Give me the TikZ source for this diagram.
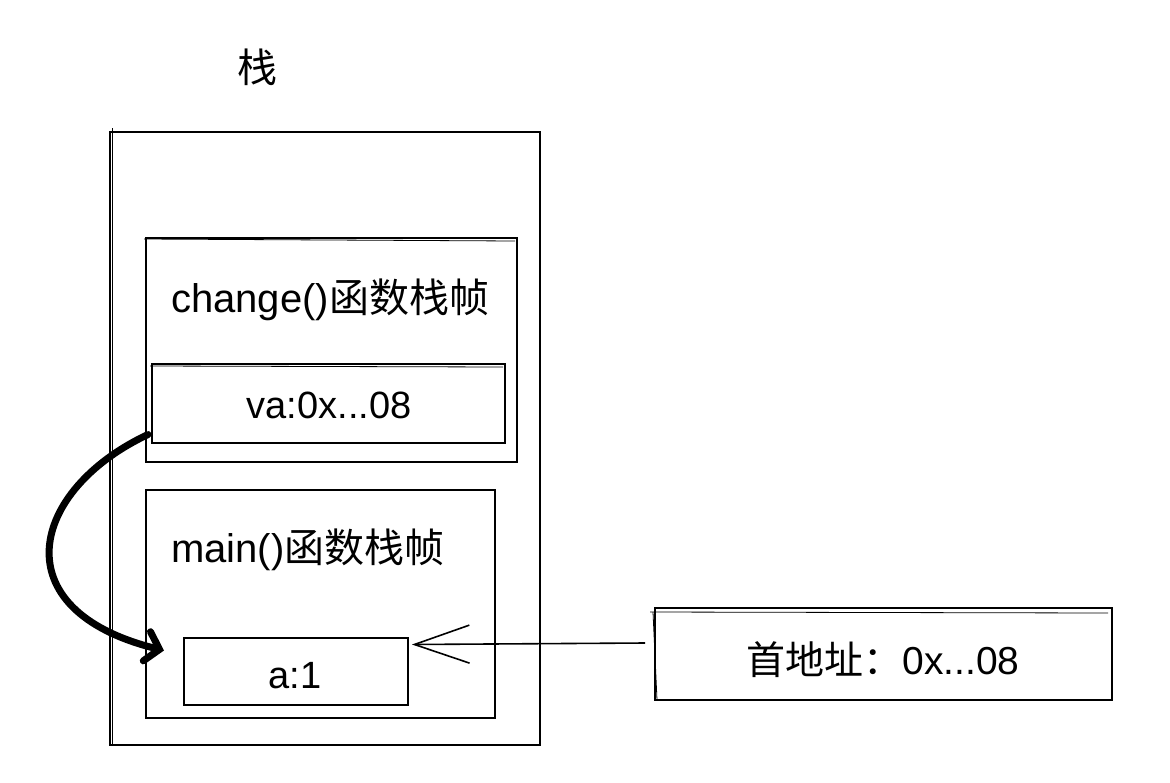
\documentclass[tikz,border=0pt]{standalone}
\usepackage{fontspec}
\setmainfont{Liberation Sans}
\newfontfamily\cjk{Noto Sans CJK SC}
\usetikzlibrary{arrows.meta,calc}
\begin{document}
\begin{tikzpicture}[x=1pt,y=-1pt,
  sketchbox/.style={draw=black,line width=1.6pt,minimum width=#1,inner sep=0pt,outer sep=0pt},
  big/.style={font=\fontsize{40}{44}\selectfont,inner sep=0pt,anchor=west},
  small/.style={font=\fontsize{38}{42}\selectfont,inner sep=0pt}]
\useasboundingbox (0,0) rectangle (1170,782);
% boxes
\node[sketchbox=430pt,minimum height=613pt] (stack) at (325,438.5) {};
\node[sketchbox=371pt,minimum height=224pt] (cframe) at (331.5,350) {};
\node[sketchbox=353pt,minimum height=79pt] (va) at (328.5,403.5) {};
\node[sketchbox=349pt,minimum height=228pt] (mframe) at (320.5,604) {};
\node[sketchbox=224pt,minimum height=67pt] (abox) at (296,671.5) {};
\node[sketchbox=457pt,minimum height=92pt] (addr) at (883.5,654) {};
% second sketch strokes
\draw[line width=0.8pt] (112,128) -- (112,745);
\draw[line width=0.8pt] (144,239) -- (515,241);
\draw[line width=0.8pt] (150,366) -- (503,367);
\draw[line width=0.8pt] (650,612) -- (1108,613);
\draw[line width=0.8pt] (653,612) -- (657,700);
\draw[line width=0.8pt] (494,492) -- (494,716);
% texts
\node[font=\fontsize{40}{44}\selectfont\cjk,inner sep=0pt] (title) at (257,67) {栈};
\node[big] (ctext) at (171,300) {change()\cjk 函数栈帧};
\node[big] (mtext) at (171,550) {main()\cjk 函数栈帧};
\node[small] (vatext) at (329,405) {va:0x...08};
\node[small] (atext) at (295,676) {a:1};
\node[font=\fontsize{39}{44}\selectfont,inner sep=0pt] (addrtext) at (883,660) {{\cjk 首地址：}0x...08};
% connectors
\coordinate (pfrom) at ($(addr.west)+(-10,-11)$);
\coordinate (pto) at ($(abox.east)+(4,-27)$);
\draw[line width=1.6pt,-{Straight Barb[length=55pt,width=38pt,line width=1.6pt]}] (pfrom) -- (pto);
\coordinate (cfrom) at ($(va.west)+(-4,31)$);
\coordinate (cto) at ($(abox.west)+(-20,-21)$);
\draw[line width=7pt,line cap=round,-{Straight Barb[length=13pt,width=30pt,line cap=round]}] (cfrom) .. controls (30,490) and (0,610) .. (cto);
\end{tikzpicture}
\end{document}
